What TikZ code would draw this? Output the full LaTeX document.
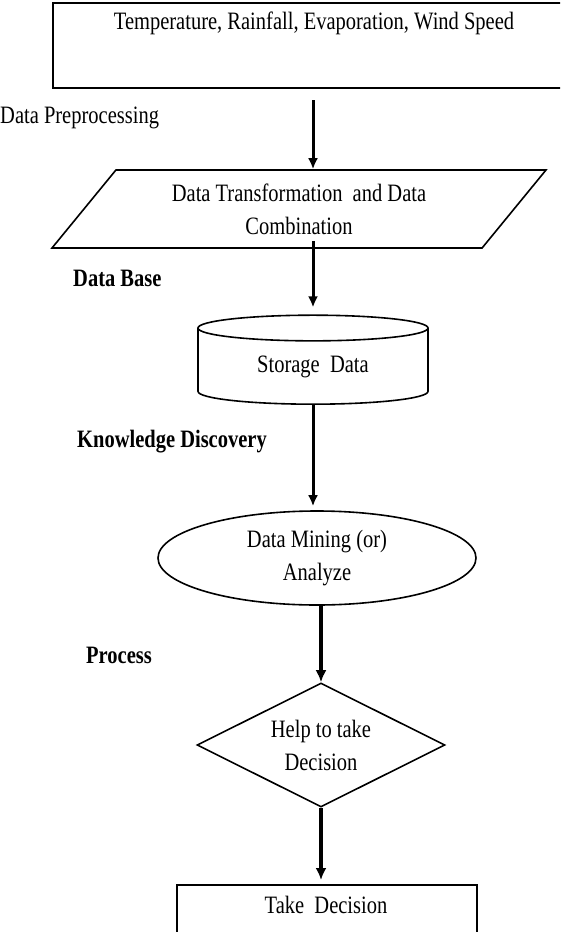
\documentclass[tikz,border=0pt]{standalone}
\usepackage{fontspec}
\setmainfont{Liberation Serif}[FakeStretch=0.82]
\usetikzlibrary{arrows.meta}
\usetikzlibrary{shapes.geometric}
\usetikzlibrary{calc}

\begin{document}
\begin{tikzpicture}[x=1pt, y=-1pt,
    every node/.style={font=\fontsize{25}{33}\selectfont},
    box/.style={draw, line width=2.4pt, inner sep=0pt, anchor=north west},
    thinshape/.style={draw, line width=1.6pt, inner sep=0pt, align=center},
    lbl/.style={anchor=west, inner sep=0pt},
    flow/.style={-{Latex[length=11pt,width=10pt]}, line width=3pt},
    flowthick/.style={-{Latex[length=12pt,width=11pt]}, line width=4pt}]
    \useasboundingbox (0,0) rectangle (560,932);
    \clip (0,0) rectangle (560,932);

    % input box, cut off at the right edge
    \node[box, minimum width=600pt, minimum height=85pt] (inp) at (52,2) {};
    \node (inptxt) at (314,23) {Temperature, Rainfall, Evaporation, Wind Speed};

    \node[thinshape, trapezium, trapezium left angle=38.5, trapezium right angle=141.5,
          trapezium stretches body, minimum width=494pt, minimum height=78pt] (para) at (299,209)
          {Data Transformation\ \ and Data\\Combination};

    \node[thinshape, cylinder, shape border rotate=90, aspect=0.23,
          minimum width=230pt, minimum height=89pt] (stor) at (313,366.5) {Storage\ \ Data};

    \node[thinshape, ellipse, minimum width=318pt, minimum height=94pt] (mine) at (317,558)
          {Data Mining (or)\\Analyze};

    \node[thinshape, diamond, aspect=2, minimum width=248pt, minimum height=124pt] (dec) at (321,745)
          {Help to take\\Decision};

    % output box, cut off at the bottom edge
    \node[box, line width=2pt, minimum width=300pt, minimum height=80pt] (out) at (176,884) {};
    \node (outtxt) at (326,905) {Take\ \ Decision};

    \node[lbl] (prep) at (0,118) {Data Preprocessing};
    \node[lbl, font=\fontsize{25}{33}\selectfont\bfseries] (dbase) at (73,278) {Data Base};
    \node[lbl, font=\fontsize{25}{33}\selectfont\bfseries] (know) at (77,442) {Knowledge Discovery};
    \node[lbl, font=\fontsize{25}{33}\selectfont\bfseries] (proc) at (86,655) {Process};

    \draw[flow] ([yshift=-11pt]inp.south -| stor.center) -- (para.north -| stor.center);
    \draw[flow] ([yshift=8pt]para.south -| stor.center) -- ([yshift=7pt]stor.north);
    \draw[flow] (stor.south) -- ([yshift=4pt]mine.north -| stor.center);
    \draw[flowthick] (mine.south -| dec.center) -- (dec.north);
    \draw[flowthick] (dec.south) -- ([yshift=4pt]out.north -| dec.center);
\end{tikzpicture}
\end{document}
